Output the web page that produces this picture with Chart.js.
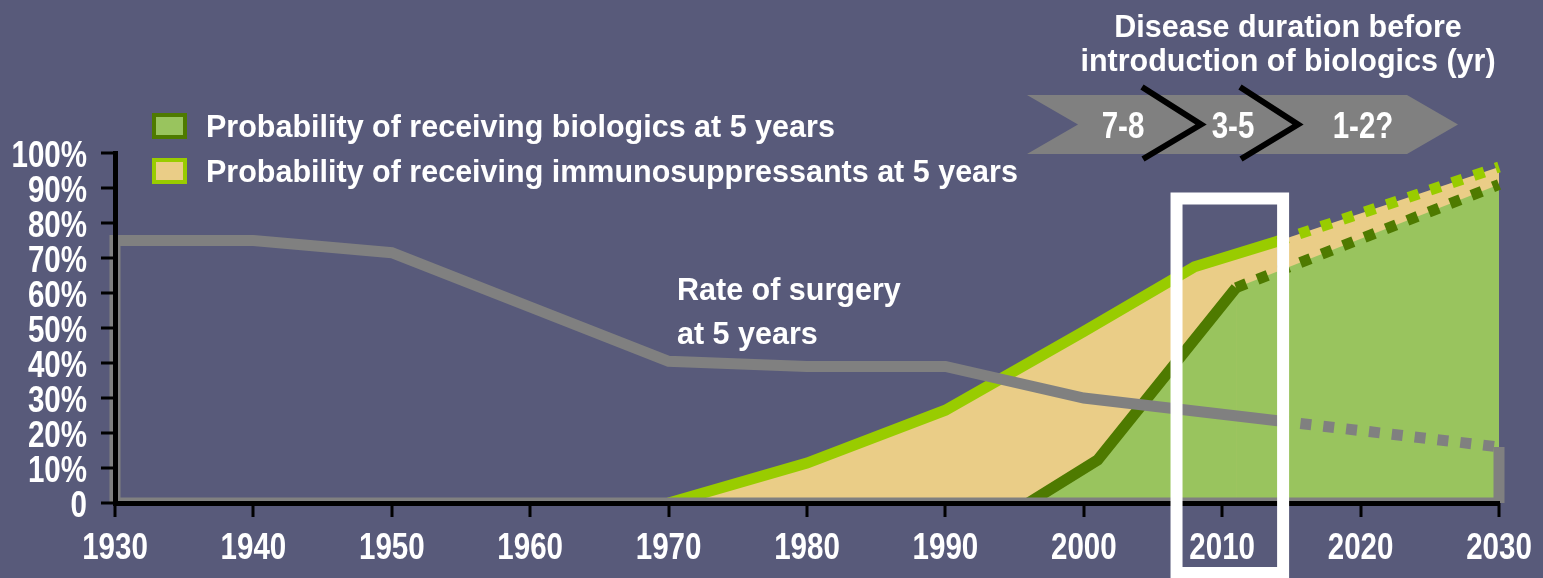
<!DOCTYPE html>
<html><head><meta charset="utf-8">
<script src="https://cdn.jsdelivr.net/npm/chart.js@4/dist/chart.umd.min.js"></script>
<style>
html,body{margin:0;padding:0;background:#585A7A;overflow:hidden}
#wrap{width:1543px;height:578px;position:relative}
</style>
</head><body>
<div id="wrap"><canvas id="c" width="1543" height="578"></canvas></div>
<script>
// ---- data ----
const surgeryYears = [1930, 1940, 1950, 1960, 1970, 1980, 1990, 2000, 2014, 2030];
const surgeryRate  = [75, 75, 71.5, 56, 40.5, 39, 39, 30, 23.5, 16];
const immunoYears  = [1970, 1980, 1990, 2000, 2008, 2014, 2030];
const immunoProb   = [0, 11.4, 26.5, 49, 67.5, 74.8, 96];
const bioYears     = [1996, 2001, 2011, 2030];
const bioProb      = [0, 12.3, 61.5, 91];
const projectionFrom = { surgery: 2014, immuno: 2014, bio: 2011 };
const xTicks = [1930, 1940, 1950, 1960, 1970, 1980, 1990, 2000, 2010, 2020, 2030];
const yTicks = [0, 10, 20, 30, 40, 50, 60, 70, 80, 90, 100];
const legendLabels = ['Probability of receiving biologics at 5 years',
                      'Probability of receiving immunosuppressants at 5 years'];
const surgeryLabel = ['Rate of surgery', 'at 5 years'];
const titleLines = ['Disease duration before', 'introduction of biologics (yr)'];
const durationStages = ['7-8', '3-5', '1-2?'];
const highlightYears = [2006.7, 2014.4];
const highlightTop = 87;

// ---- styles ----
const BG = '#585A7A';
const GRAY = '#808080';
const LIME = '#99CC00';
const TAN = '#EACD87';
const DKGREEN = '#4E7A00';
const LTGREEN = '#99C45E';
const SANS = '"Liberation Sans", Arial, sans-serif';
const COND = 0.82; // horizontal condensing for the narrow bold labels
const TICK_LEN = 14;

const xFmt = v => String(v);
const yFmt = v => v === 0 ? '0' : v + '%';

const toPts = (xs, ys) => xs.map((x, i) => ({ x: x, y: ys[i] }));
const surgeryOutline = [{ x: surgeryYears[0], y: 0 }]
  .concat(toPts(surgeryYears, surgeryRate))
  .concat([{ x: surgeryYears[surgeryYears.length - 1], y: 0 }, { x: surgeryYears[0], y: 0 }]);

const dashAfter = (from) => (ctx) =>
  (ctx.p0.parsed.x >= from && ctx.p1.parsed.x > ctx.p0.parsed.x) ? [11, 12] : undefined;

function condText(c, text, x, y, align) {
  c.save();
  c.translate(x, y);
  c.scale(COND, 1);
  c.textAlign = align;
  c.textBaseline = 'alphabetic';
  c.fillText(text, 0, 0);
  c.restore();
}

const bgPlugin = {
  id: 'bg',
  beforeDraw(chart) {
    const c = chart.ctx;
    c.save(); c.fillStyle = BG; c.fillRect(0, 0, chart.width, chart.height); c.restore();
  }
};

const annoPlugin = {
  id: 'anno',
  afterDraw(chart) {
    const c = chart.ctx;
    const xs = chart.scales.x, ys = chart.scales.y;
    const area = chart.chartArea;
    c.save();

    // tick marks, positioned by the chart's own scales
    c.strokeStyle = '#000'; c.lineWidth = 3; c.lineCap = 'butt';
    xs.ticks.forEach(t => {
      const px = Math.round(xs.getPixelForValue(t.value));
      c.beginPath(); c.moveTo(px, area.bottom); c.lineTo(px, area.bottom + TICK_LEN); c.stroke();
    });
    ys.ticks.forEach(t => {
      const py = Math.round(ys.getPixelForValue(t.value));
      c.beginPath(); c.moveTo(area.left, py); c.lineTo(area.left - TICK_LEN, py); c.stroke();
    });

    // axis tick labels (narrow bold)
    c.fillStyle = '#FFFFFF';
    c.font = 'bold 36px ' + SANS;
    xs.ticks.forEach(t => condText(c, xFmt(t.value), xs.getPixelForValue(t.value), 559, 'center'));
    ys.ticks.forEach(t => condText(c, yFmt(t.value), 87, ys.getPixelForValue(t.value) + 14, 'right'));

    // highlight box
    c.strokeStyle = '#FFFFFF'; c.lineWidth = 12; c.lineJoin = 'miter';
    const hx1 = xs.getPixelForValue(highlightYears[0]);
    const hx2 = xs.getPixelForValue(highlightYears[1]);
    const hy1 = ys.getPixelForValue(highlightTop);
    c.strokeRect(hx1, hy1, hx2 - hx1, 573 - hy1);

    // legend
    const legendColors = [[DKGREEN, LTGREEN], [LIME, TAN]];
    const rows = [137, 182];
    legendLabels.forEach((t, i) => {
      const top = rows[i] - 24;
      c.fillStyle = legendColors[i][0]; c.fillRect(152, top, 35, 26);
      c.fillStyle = legendColors[i][1]; c.fillRect(156, top + 4, 27, 18);
      c.fillStyle = '#FFFFFF'; c.font = 'bold 30.5px ' + SANS;
      c.textAlign = 'left'; c.textBaseline = 'alphabetic';
      c.fillText(t, 206, rows[i]);
    });

    // surgery label
    c.font = 'bold 30.5px ' + SANS; c.fillStyle = '#FFFFFF';
    c.textAlign = 'left';
    c.fillText(surgeryLabel[0], 677, 300);
    c.fillText(surgeryLabel[1], 677, 344);

    // title
    c.textAlign = 'center';
    c.fillText(titleLines[0], 1288, 37);
    c.fillText(titleLines[1], 1288, 71);

    // banner
    c.fillStyle = GRAY;
    c.beginPath();
    c.moveTo(1027, 95); c.lineTo(1407, 95); c.lineTo(1458, 124.5);
    c.lineTo(1407, 154); c.lineTo(1027, 154); c.lineTo(1078, 124.5); c.closePath();
    c.fill();
    c.strokeStyle = '#000000'; c.lineWidth = 6; c.lineJoin = 'miter'; c.lineCap = 'butt';
    [[1142, 1201], [1240, 1298]].forEach(([a, b]) => {
      c.beginPath(); c.moveTo(a, 87); c.lineTo(b, 124.5); c.lineTo(a + 1, 159); c.stroke();
    });
    c.fillStyle = '#FFFFFF'; c.font = 'bold 36px ' + SANS;
    const stageX = [1123, 1233, 1363];
    durationStages.forEach((t, i) => condText(c, t, stageX[i], 138, 'center'));
    c.restore();
  }
};

const axisCommon = {
  type: 'linear',
  border: { display: true, color: '#000', width: 5, z: 1 },
  grid: { display: false, drawOnChartArea: false, drawTicks: false },
};

new Chart(document.getElementById('c'), {
  type: 'line',
  data: {
    datasets: [
      {
        label: 'Rate of surgery at 5 years',
        data: surgeryOutline,
        borderColor: GRAY, borderWidth: 11, fill: false, pointRadius: 0,
        borderCapStyle: 'butt', borderJoinStyle: 'miter', tension: 0,
        segment: { borderDash: dashAfter(projectionFrom.surgery) },
        clip: { left: 8, top: 8, right: 8, bottom: 0 }
      },
      {
        label: legendLabels[0],
        data: toPts(bioYears, bioProb),
        borderColor: DKGREEN, backgroundColor: LTGREEN, fill: 'origin',
        borderWidth: 11, pointRadius: 0, borderCapStyle: 'butt', tension: 0,
        segment: { borderDash: dashAfter(projectionFrom.bio) },
        clip: { left: 8, top: 8, right: 8, bottom: 0 }
      },
      {
        label: legendLabels[1],
        data: toPts(immunoYears, immunoProb),
        borderColor: LIME, backgroundColor: TAN, fill: 'origin',
        borderWidth: 11, pointRadius: 0, borderCapStyle: 'butt', tension: 0,
        segment: { borderDash: dashAfter(projectionFrom.immuno) },
        clip: { left: 8, top: 8, right: 8, bottom: 0 }
      }
    ]
  },
  options: {
    responsive: false,
    animation: false,
    events: [],
    layout: { padding: { left: 0, right: 44, top: 153, bottom: 0 } },
    plugins: { legend: { display: false }, tooltip: { enabled: false } },
    scales: {
      x: Object.assign({}, axisCommon, {
        min: xTicks[0], max: xTicks[xTicks.length - 1],
        afterFit: s => { s.height = 75; },
        afterBuildTicks: s => { s.ticks = xTicks.map(v => ({ value: v })); },
        ticks: { display: false, autoSkip: false, maxRotation: 0, callback: xFmt }
      }),
      y: Object.assign({}, axisCommon, {
        min: yTicks[0], max: yTicks[yTicks.length - 1],
        afterFit: s => { s.width = 115; },
        afterBuildTicks: s => { s.ticks = yTicks.map(v => ({ value: v })); },
        ticks: { display: false, autoSkip: false, callback: yFmt }
      })
    }
  },
  plugins: [bgPlugin, annoPlugin]
});
</script>
</body></html>
